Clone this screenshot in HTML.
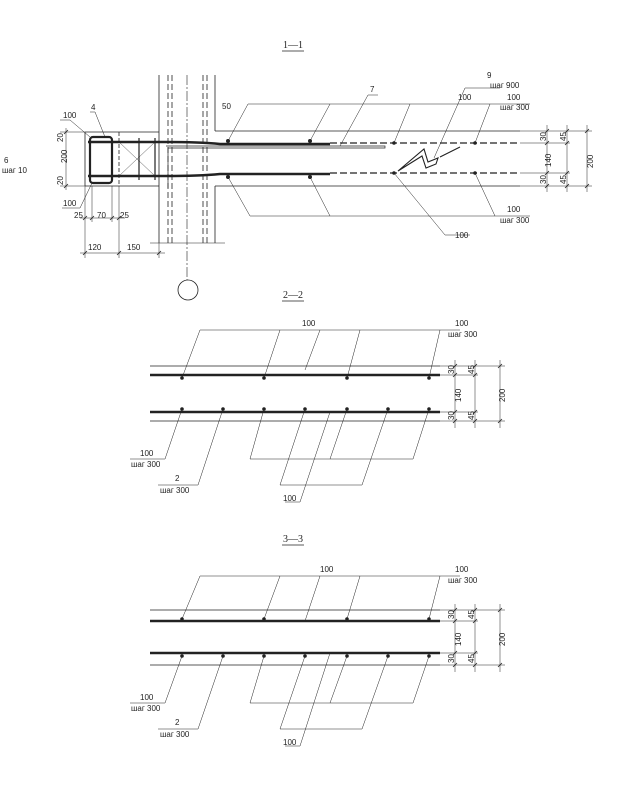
<!DOCTYPE html>
<html><head><meta charset="utf-8"><style>
body{margin:0;background:#fff}
svg{display:block}
text{font-family:"Liberation Sans",sans-serif;font-size:8px;fill:#222}
.t{font-family:"Liberation Serif",serif;font-size:10px}
</style></head><body>
<svg width="617" height="788" viewBox="0 0 617 788" xmlns="http://www.w3.org/2000/svg" stroke="#222" fill="none" stroke-width="0.8">
<!-- 1-1 -->
<text class="t" x="283" y="48" stroke="none">1—1</text>
<line x1="282" y1="51" x2="304" y2="51"/>
<line x1="159" y1="75" x2="159" y2="243"/>
<line x1="215" y1="75" x2="215" y2="131"/>
<line x1="215" y1="186" x2="215" y2="243"/>
<line x1="168" y1="75" x2="168" y2="243" stroke-dasharray="6,3"/>
<line x1="172" y1="75" x2="172" y2="243" stroke-dasharray="6,3"/>
<line x1="203" y1="75" x2="203" y2="243" stroke-dasharray="6,3"/>
<line x1="207" y1="75" x2="207" y2="243" stroke-dasharray="6,3"/>
<line x1="187" y1="75" x2="187" y2="280" stroke-dasharray="10,2,2,2" stroke-width="0.6"/>
<circle cx="188" cy="290" r="10"/>
<line x1="150" y1="243" x2="225" y2="243" stroke-width="0.5"/>
<line x1="215" y1="131" x2="520" y2="131"/>
<line x1="215" y1="186" x2="520" y2="186"/>
<line x1="85" y1="132" x2="159" y2="132"/>
<line x1="85" y1="186" x2="159" y2="186"/>
<line x1="85" y1="132" x2="85" y2="186"/>
<line x1="119" y1="132" x2="119" y2="186" stroke-dasharray="4,2"/>
<rect x="90" y="137" width="22" height="46" rx="3" stroke-width="2.2"/>
<path d="M88 142 H165 Q200 142 220 144 H330" stroke-width="2.5"/>
<path d="M88 176 H165 Q200 176 220 174 H330" stroke-width="2.5"/>
<path d="M119 142 L155 176 M155 142 L119 176" stroke-width="0.4"/>
<line x1="139" y1="138" x2="139" y2="180" stroke-width="1.2"/>
<line x1="155" y1="138" x2="155" y2="180" stroke-width="1.2"/>
<path d="M166 146 H385 V148 H168 V188" stroke-width="0.7"/>
<line x1="330" y1="143" x2="520" y2="143" stroke-dasharray="7,3" stroke-width="1.3"/>
<line x1="330" y1="173" x2="520" y2="173" stroke-dasharray="7,3" stroke-width="1.3"/>
<path d="M398 171 L424 149 L428 162 L438 158 L436 164 L426 168 L422 156 Z M440 157 L460 147" stroke-width="1.1"/>
<g fill="#222" stroke="none"><circle cx="228" cy="141" r="2"/><circle cx="310" cy="141" r="2"/><circle cx="394" cy="143" r="1.8"/><circle cx="475" cy="143" r="1.8"/>
<circle cx="228" cy="177" r="2"/><circle cx="310" cy="177" r="2"/><circle cx="394" cy="173" r="1.8"/><circle cx="475" cy="173" r="1.8"/></g>
<g stroke-width="0.5">
<path d="M228 141 L248 104 H530 M310 141 L330 104 M394 143 L410 104 M475 143 L490 104"/>
<path d="M228 177 L250 216 H530 M310 177 L330 216 M394 173 L445 235 H470 M475 173 L495 216"/>
<path d="M340 146 L368 95 H378 M434 158 L465 88 H500 M90 137 L70 120 H60 M105 137 L95 112 H90 M92 183 L80 208 H62"/>
</g>
<text x="370" y="92" stroke="none">7</text>
<text x="487" y="78" stroke="none">9</text>
<text x="490" y="88" stroke="none">шаг 900</text>
<text x="458" y="100" stroke="none">100</text>
<text x="507" y="100" stroke="none">100</text>
<text x="500" y="110" stroke="none">шаг 300</text>
<text x="507" y="212" stroke="none">100</text>
<text x="500" y="223" stroke="none">шаг 300</text>
<text x="455" y="238" stroke="none">100</text>
<text x="222" y="109" stroke="none">50</text>
<text x="91" y="110" stroke="none">4</text>
<text x="63" y="118" stroke="none">100</text>
<text x="63" y="206" stroke="none">100</text>
<text x="4" y="163" stroke="none">6</text>
<text x="2" y="173" stroke="none">шаг 10</text>
<g stroke-width="0.5">
<line x1="80" y1="253" x2="165" y2="253"/><line x1="85" y1="186" x2="85" y2="258"/><line x1="119" y1="186" x2="119" y2="258"/><line x1="159" y1="243" x2="159" y2="258"/>
<line x1="80" y1="218" x2="125" y2="218"/><line x1="92" y1="186" x2="92" y2="222"/><line x1="112" y1="186" x2="112" y2="222"/>
<line x1="66" y1="128" x2="66" y2="190"/><line x1="60" y1="132" x2="85" y2="132"/><line x1="60" y1="186" x2="85" y2="186"/>
<line x1="547" y1="125" x2="547" y2="192"/><line x1="567" y1="125" x2="567" y2="192"/><line x1="587" y1="125" x2="587" y2="192"/>
<line x1="520" y1="131" x2="592" y2="131"/><line x1="520" y1="186" x2="592" y2="186"/>
<line x1="520" y1="143" x2="570" y2="143"/><line x1="520" y1="173" x2="570" y2="173"/>
</g>
<g stroke-width="0.8">
<path d="M545 133l4-4M545 145l4-4M545 175l4-4M545 188l4-4M565 133l4-4M565 145l4-4M565 175l4-4M565 188l4-4M585 133l4-4M585 188l4-4"/>
<path d="M83 255l4-4M117 255l4-4M157 255l4-4M83 220l4-4M90 220l4-4M110 220l4-4M117 220l4-4M64 134l4-4M64 188l4-4"/>
</g>
<g stroke="none" font-size="7">
<text x="88" y="250">120</text><text x="127" y="250">150</text>
<text x="74" y="218">25</text><text x="97" y="218">70</text><text x="120" y="218">25</text>
<text x="541" y="163" transform="rotate(-90 548 160)">140</text>
<text x="582" y="163" transform="rotate(-90 590 160)">200</text>
<text x="539" y="140" transform="rotate(-90 543 137)">30</text>
<text x="539" y="183" transform="rotate(-90 543 180)">30</text>
<text x="559" y="140" transform="rotate(-90 563 137)">45</text>
<text x="559" y="183" transform="rotate(-90 563 180)">45</text>
<text x="60" y="162" transform="rotate(-90 64 159)">200</text>
<text x="56" y="141" transform="rotate(-90 60 138)">20</text>
<text x="56" y="184" transform="rotate(-90 60 181)">20</text>
</g>

<g>
<text class="t" x="283" y="298" stroke="none">2—2</text>
<line x1="282" y1="301" x2="304" y2="301"/>
<line x1="150" y1="366" x2="440" y2="366"/>
<line x1="150" y1="375" x2="440" y2="375" stroke-width="2.6"/>
<line x1="150" y1="412" x2="440" y2="412" stroke-width="2.6"/>
<line x1="150" y1="421" x2="440" y2="421"/>
<g fill="#222" stroke="none"><circle cx="182" cy="378" r="1.8"/><circle cx="264" cy="378" r="1.8"/><circle cx="347" cy="378" r="1.8"/><circle cx="429" cy="378" r="1.8"/>
<circle cx="182" cy="409" r="1.8"/><circle cx="223" cy="409" r="1.8"/><circle cx="264" cy="409" r="1.8"/><circle cx="305" cy="409" r="1.8"/><circle cx="347" cy="409" r="1.8"/><circle cx="388" cy="409" r="1.8"/><circle cx="429" cy="409" r="1.8"/></g>
<g stroke-width="0.5">
<path d="M182 378 L200 330 H460 M264 378 L280 330 M347 378 L360 330 M429 378 L440 330 M305 370 L320 330"/>
<path d="M182 409 L165 459 H130 M264 409 L250 459 H413 L429 409 M347 409 L330 459"/>
<path d="M223 409 L198 485 H158 M305 409 L280 485 H362 L388 409"/>
<path d="M330 412 L300 502 H285"/>
<line x1="455" y1="360" x2="455" y2="428"/><line x1="475" y1="360" x2="475" y2="428"/><line x1="500" y1="360" x2="500" y2="428"/>
<line x1="440" y1="366" x2="505" y2="366"/><line x1="440" y1="421" x2="505" y2="421"/>
<line x1="440" y1="375" x2="478" y2="375"/><line x1="440" y1="412" x2="478" y2="412"/>
</g>
<path d="M453 368l4-4M453 377l4-4M453 414l4-4M453 423l4-4M473 368l4-4M473 377l4-4M473 414l4-4M473 423l4-4M498 368l4-4M498 423l4-4"/>
<g stroke="none">
<text x="302" y="326">100</text>
<text x="455" y="326">100</text><text x="448" y="337">шаг 300</text>
<text x="140" y="456">100</text><text x="131" y="467">шаг 300</text>
<text x="175" y="481">2</text><text x="160" y="493">шаг 300</text>
<text x="283" y="501">100</text>
<g font-size="7">
<text x="450" y="397" transform="rotate(-90 458 394)">140</text>
<text x="494" y="397" transform="rotate(-90 502 394)">200</text>
<text x="447" y="373" transform="rotate(-90 451 370)">30</text>
<text x="447" y="419" transform="rotate(-90 451 416)">30</text>
<text x="467" y="373" transform="rotate(-90 471 370)">45</text>
<text x="467" y="419" transform="rotate(-90 471 416)">45</text>
</g></g>
</g>
<g transform="translate(0,244)">
<text class="t" x="283" y="298" stroke="none">3—3</text>
<line x1="282" y1="301" x2="304" y2="301"/>
<line x1="150" y1="366" x2="440" y2="366"/>
<line x1="150" y1="377" x2="440" y2="377" stroke-width="2.6"/>
<line x1="150" y1="409" x2="440" y2="409" stroke-width="2.6"/>
<line x1="150" y1="421" x2="440" y2="421"/>
<g fill="#222" stroke="none"><circle cx="182" cy="375" r="1.8"/><circle cx="264" cy="375" r="1.8"/><circle cx="347" cy="375" r="1.8"/><circle cx="429" cy="375" r="1.8"/>
<circle cx="182" cy="412" r="1.8"/><circle cx="223" cy="412" r="1.8"/><circle cx="264" cy="412" r="1.8"/><circle cx="305" cy="412" r="1.8"/><circle cx="347" cy="412" r="1.8"/><circle cx="388" cy="412" r="1.8"/><circle cx="429" cy="412" r="1.8"/></g>
<g stroke-width="0.5">
<path d="M182 375 L200 332 H460 M264 375 L280 332 M347 375 L360 332 M429 375 L440 332 M305 377 L320 332"/>
<path d="M182 412 L165 459 H130 M264 412 L250 459 H413 L429 412 M347 412 L330 459"/>
<path d="M223 412 L198 485 H158 M305 412 L280 485 H362 L388 412"/>
<path d="M330 409 L300 502 H285"/>
<line x1="455" y1="360" x2="455" y2="428"/><line x1="475" y1="360" x2="475" y2="428"/><line x1="500" y1="360" x2="500" y2="428"/>
<line x1="440" y1="366" x2="505" y2="366"/><line x1="440" y1="421" x2="505" y2="421"/>
<line x1="440" y1="377" x2="478" y2="377"/><line x1="440" y1="409" x2="478" y2="409"/>
</g>
<path d="M453 368l4-4M453 379l4-4M453 411l4-4M453 423l4-4M473 368l4-4M473 379l4-4M473 411l4-4M473 423l4-4M498 368l4-4M498 423l4-4"/>
<g stroke="none">
<text x="320" y="328">100</text>
<text x="455" y="328">100</text><text x="448" y="339">шаг 300</text>
<text x="140" y="456">100</text><text x="131" y="467">шаг 300</text>
<text x="175" y="481">2</text><text x="160" y="493">шаг 300</text>
<text x="283" y="501">100</text>
<g font-size="7">
<text x="450" y="397" transform="rotate(-90 458 394)">140</text>
<text x="494" y="397" transform="rotate(-90 502 394)">200</text>
<text x="447" y="374" transform="rotate(-90 451 371)">30</text>
<text x="447" y="418" transform="rotate(-90 451 415)">30</text>
<text x="467" y="374" transform="rotate(-90 471 371)">45</text>
<text x="467" y="418" transform="rotate(-90 471 415)">45</text>
</g></g>
</g>
</svg>
</body></html>
